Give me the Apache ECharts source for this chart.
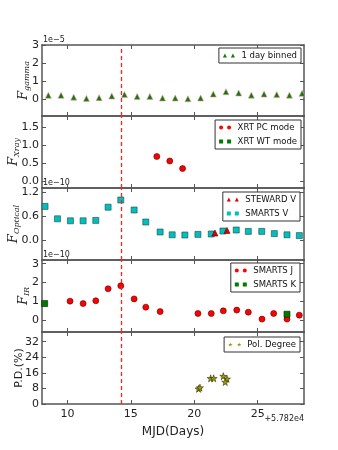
<!DOCTYPE html>
<html>
<head>
<meta charset="utf-8">
<script src="https://cdn.jsdelivr.net/npm/echarts@6/dist/echarts.min.js"></script>
<style>
  html, body { margin: 0; padding: 0; background: #fff; }
  #main { width: 338px; height: 450px; }
</style>
</head>
<body>
<div id="main"></div>
<script>
// gamma, 1 day binned (x in MJD - 57820)
var gammaX = [8.5, 9.5, 10.5, 11.5, 12.5, 13.5, 14.5, 15.5, 16.5, 17.5, 18.5, 19.5, 20.5, 21.5, 22.5, 23.5, 24.5, 25.5, 26.5, 27.5, 28.5];
var gammaY = [0.2, 0.2, 0.1, 0.03, 0.07, 0.16, 0.25, 0.14, 0.14, 0.05, 0.05, 0.01, 0.05, 0.27, 0.4, 0.33, 0.21, 0.27, 0.24, 0.21, 0.31];

// xrt
var xrtPcX = [17.05, 18.07, 19.08];
var xrtPcY = [0.675, 0.55, 0.34];
var xrtWtX = [];
var xrtWtY = [];

// optical
var stewX = [21.63, 22.58];
var stewY = [0.175, 0.24];
var smVX = [8.24, 9.22, 10.24, 11.24, 12.24, 13.21, 14.21, 15.26, 16.18, 17.31, 18.26, 19.26, 20.29, 21.34, 22.26, 23.31, 24.26, 25.32, 26.31, 27.31, 28.28];
var smVY = [0.84, 0.53, 0.48, 0.48, 0.49, 0.82, 1.0, 0.75, 0.45, 0.2, 0.13, 0.125, 0.14, 0.15, 0.225, 0.25, 0.215, 0.215, 0.16, 0.13, 0.11];

// IR
var smJX = [10.21, 11.24, 12.24, 13.21, 14.21, 15.26, 16.18, 17.31, 20.29, 21.34, 22.29, 23.35, 24.26, 25.34, 26.26, 27.31, 28.28];
var smJY = [1.0, 0.87, 1.02, 1.66, 1.82, 1.12, 0.68, 0.44, 0.34, 0.34, 0.48, 0.52, 0.41, 0.04, 0.34, 0.04, 0.25];
var smKX = [8.21, 27.31];
var smKY = [0.87, 0.3];

// polarisation degree
var polX = [20.34, 20.45, 21.29, 21.53, 22.29, 22.58, 22.44];
var polY = [7.8, 8.4, 13.2, 13.2, 14.3, 12.9, 11.3];

// flare marker
var flareX = 14.23;

var xTicks = [10, 15, 20, 25];
var yTicks = [[0, 1, 2, 3], [0, 0.5, 1.0, 1.5], [0, 0.6, 1.2], [0, 1, 2, 3], [0, 8, 16, 24, 32]];
var yMin = [-0.95, -0.2, -0.5, -0.65, 0];
var yMax = [3, 1.8, 1.3, 3.2, 37];
var yDec = [0, 1, 1, 0, 0];
var yNames = ['{f|F}{s|gamma}', '{f|F}{s|Xray}', '{f|F}{s|Optical}', '{f|F}{s|IR}', 'P.D.(%)'];
var yGap = [11, 21, 21, 11, 17];

var gridTop = [45, 116, 188, 260, 332];
var FRAME = '#555';
var FONT = 'DejaVu Sans';

var zip = function (xs, ys) {
    var out = [];
    for (var i = 0; i < xs.length; i++) out.push([xs[i], ys[i]]);
    return out;
};

var STAR = 'path://M50,0 L61,35 L98,35 L68,57 L79,91 L50,70 L21,91 L32,57 L2,35 L39,35 Z';
var TRI2 = 'path://M0,10 L5,0 L10,10 Z M20,10 L25,0 L30,10 Z';
var CIR2 = 'path://M0,5 A5,5 0 1 1 10,5 A5,5 0 1 1 0,5 Z M20,5 A5,5 0 1 1 30,5 A5,5 0 1 1 20,5 Z';
var SQ2 = 'path://M0,0 L10,0 L10,10 L0,10 Z M20,0 L30,0 L30,10 L20,10 Z';
var STAR2 = 'path://M5,0 L6.2,3.5 L10,3.5 L7,5.7 L8,9 L5,7 L2,9 L3,5.7 L0,3.5 L3.8,3.5 Z M25,0 L26.2,3.5 L30,3.5 L27,5.7 L28,9 L25,7 L22,9 L23,5.7 L20,3.5 L23.8,3.5 Z';

var grids = [], xAxes = [], yAxes = [];
for (var i = 0; i < 5; i++) {
    grids.push({ left: 42, right: 34, top: gridTop[i], height: i == 0 ? 71 : 72, containLabel: false, outerBoundsMode: 'none' });
    var last = i == 4;
    // bottom x
    xAxes.push({
        type: 'value', gridIndex: i, min: 8, max: 28.65,
        axisLine: { show: true, onZero: false, lineStyle: { color: FRAME, width: 1.5 } },
        axisTick: { show: true, inside: true, length: 4, customValues: xTicks, lineStyle: { color: FRAME } },
        axisLabel: { show: last, customValues: xTicks, color: '#222', fontSize: 11, fontFamily: FONT, margin: 5 },
        splitLine: { show: false },
        name: last ? 'MJD(Days)' : '', nameLocation: 'middle', nameGap: 22, nameMoveOverlap: false,
        nameTextStyle: { color: '#222', fontSize: 12, fontFamily: FONT }
    });
    // top x (frame)
    xAxes.push({
        type: 'value', gridIndex: i, min: 8, max: 28.65, position: 'top',
        axisLine: { show: true, onZero: false, lineStyle: { color: FRAME, width: 1.5 } },
        axisTick: { show: true, inside: true, length: 4, customValues: xTicks, lineStyle: { color: FRAME } },
        axisLabel: { show: false }, splitLine: { show: false }
    });
    (function (d) {
        yAxes.push({
            type: 'value', gridIndex: i, min: yMin[i], max: yMax[i],
            axisLine: { show: true, onZero: false, lineStyle: { color: FRAME, width: 1.5 } },
            axisTick: { show: true, inside: true, length: 4, customValues: yTicks[i], lineStyle: { color: FRAME } },
            axisLabel: {
                customValues: yTicks[i], color: '#222', fontSize: 11, fontFamily: FONT, margin: 3,
                formatter: function (v) { return v.toFixed(d); }
            },
            splitLine: { show: false },
            name: yNames[i], nameLocation: 'middle', nameRotate: 90, nameGap: yGap[i], nameMoveOverlap: false,
            nameTextStyle: {
                color: '#222', fontSize: 11, fontFamily: FONT,
                rich: {
                    f: { fontSize: 13, fontFamily: 'DejaVu Serif', fontStyle: 'italic', color: '#222' },
                    s: { fontSize: 8, fontFamily: 'DejaVu Serif', fontStyle: 'italic', color: '#222', padding: [7, 0, 0, 0] }
                }
            }
        });
    })(yDec[i]);
    yAxes.push({
        type: 'value', gridIndex: i, min: yMin[i], max: yMax[i], position: 'right',
        axisLine: { show: true, onZero: false, lineStyle: { color: FRAME, width: 1.5 } },
        axisTick: { show: true, inside: true, length: 4, customValues: yTicks[i], lineStyle: { color: FRAME } },
        axisLabel: { show: false }, splitLine: { show: false }
    });
}

// red dashed line for the flare, one per panel
var flareLine = function () {
    return {
        silent: true, symbol: ['none', 'none'], label: { show: false },
        lineStyle: { color: '#ff2020', type: [4, 3], width: 1.3, opacity: 1 },
        emphasis: { disabled: true },
        data: [{ xAxis: flareX, lineStyle: { color: '#ff2020', type: [4, 3], width: 1.3 } }]
    };
};

var mk = function (name, p, xs, ys, symbol, size, color, border, withLine) {
    var s = {
        name: name, type: 'scatter', xAxisIndex: p * 2, yAxisIndex: p * 2,
        data: zip(xs, ys), symbol: symbol, symbolSize: size,
        itemStyle: { color: color, borderColor: border, borderWidth: 0.6, opacity: 1 },
        clip: true, z: 3
    };
    if (withLine) s.markLine = flareLine();
    return s;
};

var series = [
    mk('1 day binned', 0, gammaX, gammaY, 'triangle', 6, '#117a11', '#e89a9a', true),
    mk('XRT PC mode', 1, xrtPcX, xrtPcY, 'circle', 6, '#ff0000', '#550000', true),
    mk('XRT WT mode', 1, xrtWtX, xrtWtY, 'rect', 6, '#007a00', '#002200', false),
    mk('STEWARD V', 2, stewX, stewY, 'triangle', 6, '#e00000', '#550000', false),
    mk('SMARTS V', 2, smVX, smVY, 'rect', 6, '#00bfbf', '#224444', true),
    mk('SMARTS J', 3, smJX, smJY, 'circle', 6, '#ff0000', '#550000', true),
    mk('SMARTS K', 3, smKX, smKY, 'rect', 6, '#007a00', '#002200', false),
    mk('Pol. Degree', 4, polX, polY, STAR, 7, '#9a9a10', '#333300', true)
];
series[3].z = 4;

var legendBase = function (names, top, right, icon) {
    return {
        data: names.map(function (n, k) { return { name: n, icon: icon[k] }; }),
        orient: 'vertical', top: top, right: right,
        itemWidth: 15, itemHeight: 4, itemGap: 5,
        padding: [3, 4, 3, 4],
        borderColor: '#333', borderWidth: 1, borderRadius: 0, backgroundColor: '#fff',
        itemStyle: { borderWidth: 0 },
        textStyle: { fontSize: 8.5, fontFamily: FONT, color: '#111', padding: [0, 0, 0, 0] },
        selectedMode: false
    };
};

var option = {
    animation: false,
    backgroundColor: '#fff',
    grid: grids,
    xAxis: xAxes,
    yAxis: yAxes,
    legend: [
        legendBase(['1 day binned'], 48, 37, [TRI2]),
        legendBase(['XRT PC mode', 'XRT WT mode'], 120, 37, [CIR2, SQ2]),
        legendBase(['STEWARD V', 'SMARTS V'], 192, 38, [TRI2, SQ2]),
        legendBase(['SMARTS J', 'SMARTS K'], 263, 38, [CIR2, SQ2]),
        legendBase(['Pol. Degree'], 337, 38, [STAR2])
    ],
    graphic: [
        { type: 'text', left: 43, top: 36, style: { text: '1e\u22125', fontSize: 8, fontFamily: FONT, fill: '#222' } },
        { type: 'text', left: 43, top: 179, style: { text: '1e\u221210', fontSize: 8, fontFamily: FONT, fill: '#222' } },
        { type: 'text', left: 43, top: 251, style: { text: '1e\u221210', fontSize: 8, fontFamily: FONT, fill: '#222' } },
        { type: 'text', right: 34, top: 415, style: { text: '+5.782e4', fontSize: 8, fontFamily: FONT, fill: '#222' } }
    ],
    series: series
};

var chart = echarts.init(document.getElementById('main'), null, { renderer: 'canvas' });
chart.setOption(option);
</script>
</body>
</html>
